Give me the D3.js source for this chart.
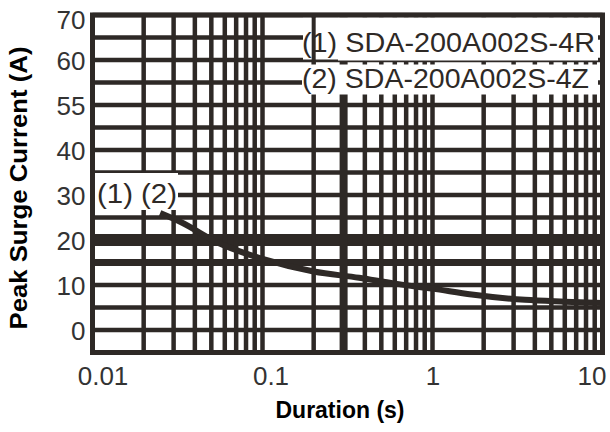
<!DOCTYPE html>
<html><head><meta charset="utf-8">
<script src="https://cdn.jsdelivr.net/npm/d3@7"></script>
<style>
html,body{margin:0;padding:0;background:#fff;}
svg{display:block;font-family:"Liberation Sans",Arial,sans-serif;}
</style></head>
<body><svg id="c" width="610" height="432"></svg>
<script>
// ---- data ----
const durations = [0.025, 0.033, 0.056, 0.1, 0.2, 0.37, 0.6, 1.0, 1.7, 3.5, 6, 10];
const currents  = [26, 24, 19.2, 15.8, 13, 11.6, 10.3, 9.2, 7.9, 6.7, 6.3, 6.0];
const xTickValues = [0.01, 0.1, 1, 10];
const xTickLabels = ["0.01", "0.1", "1", "10"];
const yTickValues = [0, 10, 20, 30, 40, 50, 60, 70];
const yTickLabels = ["0", "10", "20", "30", "40", "55", "60", "70"];
const legendLabels = ["(1) SDA-200A002S-4R", "(2) SDA-200A002S-4Z"];
const curveLabel = "(1) (2)";
const xTitle = "Duration (s)";
const yTitle = "Peak Surge Current (A)";

// ---- layout ----
const ink = "#2e2926";
const L = 92.5, R = 602.5, T = 15, B = 352.5;
const svg = d3.select("#c");
const x = d3.scaleLog().domain([0.01, 10]).range([L, R]);
const y = d3.scaleLinear().domain([-5, 70]).range([B, T]);

// grid
const g = svg.append("g");
const hVals = d3.range(-5, 71, 5);
const hWidth = v => v === 20 ? 12 : (v === 15 ? 7 : 4.5);
g.selectAll("line.h").data(hVals).join("line")
  .attr("x1", L).attr("x2", R)
  .attr("y1", d => y(d)).attr("y2", d => y(d))
  .attr("stroke", ink).attr("stroke-width", hWidth);
const vVals = x.ticks();
const vWidth = v => Math.abs(v - 0.3) < 1e-9 ? 8 : 4.5;
g.selectAll("line.v").data(vVals).join("line")
  .attr("y1", T).attr("y2", B)
  .attr("x1", d => x(d)).attr("x2", d => x(d))
  .attr("stroke", ink).attr("stroke-width", vWidth);

// curve
const pts = durations.map((d, i) => [d, currents[i]]);
svg.append("path").datum(pts)
  .attr("d", d3.line().x(d => x(d[0])).y(d => y(d[1])).curve(d3.curveMonotoneX))
  .attr("fill", "none").attr("stroke", ink).attr("stroke-width", 6);

// legend boxes
svg.append("rect").attr("x", 303).attr("y", 17.5).attr("width", 295).attr("height", 42).attr("fill", "#fff");
svg.append("line").attr("x1", x(0.2)).attr("x2", x(0.2)).attr("y1", T).attr("y2", 60)
  .attr("stroke", ink).attr("stroke-width", 4);
svg.append("rect").attr("x", 338).attr("y", 17.5).attr("width", 260).attr("height", 43).attr("fill", "#fff");
svg.append("rect").attr("x", 302).attr("y", 64.5).attr("width", 296).attr("height", 30).attr("fill", "#fff");
svg.selectAll("text.leg").data(legendLabels).join("text")
  .attr("x", 302).attr("y", (d, i) => 52 + i * 36)
  .attr("font-size", 28).attr("fill", ink)
  .attr("textLength", (d, i) => i === 0 ? 293 : 287).attr("lengthAdjust", "spacingAndGlyphs")
  .text(d => d);

// curve label box
svg.append("rect").attr("x", 95).attr("y", 173).attr("width", 83).attr("height", 37).attr("fill", "#fff");
svg.append("text").attr("x", 97).attr("y", 203).attr("font-size", 28).attr("fill", ink)
  .attr("textLength", 80).attr("lengthAdjust", "spacingAndGlyphs").text(curveLabel);

// border
svg.append("rect").attr("x", L).attr("y", T).attr("width", R - L).attr("height", B - T)
  .attr("fill", "none").attr("stroke", ink).attr("stroke-width", 5);

// axes
const xOff = [10, 8, 0, -11];
const xa = svg.append("g").attr("transform", `translate(0,${B})`)
  .call(d3.axisBottom(x).tickValues(xTickValues).tickFormat((d, i) => xTickLabels[i]).tickSize(0).tickPadding(0));
xa.select(".domain").remove();
xa.selectAll("text").attr("font-size", 26).attr("font-family", "Liberation Sans, Arial, sans-serif")
  .attr("fill", "#333").attr("dy", null).attr("y", 32)
  .attr("dx", (d, i) => xOff[i]);

const ya = svg.append("g").attr("transform", `translate(${L},0)`)
  .call(d3.axisLeft(y).tickValues(yTickValues).tickFormat((d, i) => yTickLabels[i]).tickSize(0).tickPadding(7));
ya.select(".domain").remove();
ya.selectAll("text").attr("font-size", 26).attr("font-family", "Liberation Sans, Arial, sans-serif")
  .attr("fill", "#333").attr("dy", "0.36em");
ya.selectAll(".tick").filter(d => d === 70).select("text").attr("dy", "0.5em");

// titles
svg.append("text").attr("x", 340).attr("y", 418).attr("text-anchor", "middle")
  .attr("font-size", 23).attr("font-weight", "bold").attr("fill", "#000").text(xTitle);
svg.append("text").attr("transform", "translate(27,188) rotate(-90)").attr("text-anchor", "middle")
  .attr("font-size", 24).attr("font-weight", "bold").attr("fill", "#000")
  .attr("textLength", 283).attr("lengthAdjust", "spacingAndGlyphs").text(yTitle);
</script></body></html>
